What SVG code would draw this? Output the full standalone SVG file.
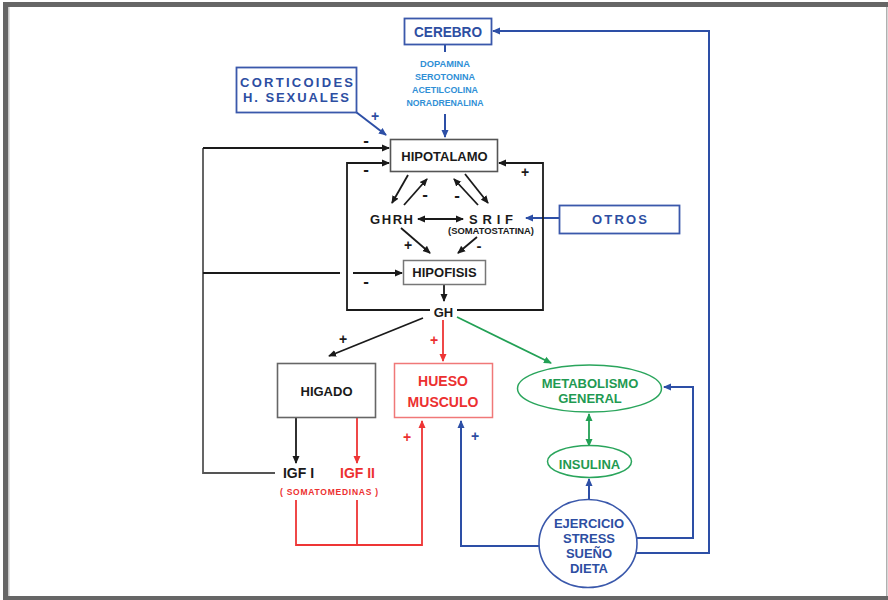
<svg xmlns="http://www.w3.org/2000/svg" width="888" height="600" viewBox="0 0 888 600">
  <defs>
    <marker id="ahK" markerUnits="userSpaceOnUse" markerWidth="8" markerHeight="8" refX="7" refY="4" orient="auto-start-reverse">
      <path d="M0,0.5 L8,4 L0,7.5 z" fill="#1a1a1a"/>
    </marker>
    <marker id="ahB" markerUnits="userSpaceOnUse" markerWidth="8" markerHeight="8" refX="7" refY="4" orient="auto-start-reverse">
      <path d="M0,0.5 L8,4 L0,7.5 z" fill="#2d4fa6"/>
    </marker>
    <marker id="ahR" markerUnits="userSpaceOnUse" markerWidth="8" markerHeight="8" refX="7" refY="4" orient="auto-start-reverse">
      <path d="M0,0.5 L8,4 L0,7.5 z" fill="#ee3535"/>
    </marker>
    <marker id="ahG" markerUnits="userSpaceOnUse" markerWidth="8" markerHeight="8" refX="7" refY="4" orient="auto-start-reverse">
      <path d="M0,0.5 L8,4 L0,7.5 z" fill="#22a055"/>
    </marker>
  </defs>
  <style>
    text { font-family: "Liberation Sans", Arial, sans-serif; font-weight: bold; text-anchor: middle; }
    .k { fill: #1a1a1a; }
    .b { fill: #2d4ea2; }
    .lb { fill: #2f8fd6; }
    .g { fill: #1f9a52; }
    .r { fill: #ec3030; }
    .t13 { font-size: 13px; }
    .t14 { font-size: 14px; }
    .plus { font-size: 14px; }
    .minus { font-size: 17px; }
    .lk { stroke: #1a1a1a; stroke-width: 1.8; fill: none; }
    .lg2 { stroke: #555555; stroke-width: 1.8; fill: none; }
    .lb2 { stroke: #2d4fa6; stroke-width: 2; fill: none; }
    .lr { stroke: #ee3535; stroke-width: 1.8; fill: none; }
    .lgr { stroke: #22a055; stroke-width: 1.8; fill: none; }
    .ak { marker-end: url(#ahK); }
    .ab { marker-end: url(#ahB); }
    .ar { marker-end: url(#ahR); }
    .ag { marker-end: url(#ahG); }
  </style>

  <!-- page frame -->
  <rect x="0" y="0" width="888" height="600" fill="#ffffff"/>
  <rect x="3" y="2" width="885" height="5" fill="#666666"/>
  <rect x="3" y="2" width="5" height="598" fill="#666666"/>
  <rect x="8" y="7" width="1.5" height="589" fill="#c8c8c8"/>
  <rect x="3" y="596" width="885" height="4" fill="#666666"/>
  <rect x="886" y="7" width="1.5" height="589" fill="#b0b0b0"/>

  <!-- connectors -->
  <g id="connectors">
    <!-- brain inputs -->
    <line class="lb2" x1="445" y1="44" x2="445" y2="52"/>
    <line class="lb2 ab" x1="445" y1="114" x2="445" y2="137"/>
    <line class="lb2 ab" x1="356" y1="112" x2="386" y2="135"/>
    <line class="lb2 ab" x1="559" y1="218" x2="526" y2="218"/>

    <!-- long feedback paths -->
    <polyline class="lg2" points="275,473 203,473 203,148"/>
    <polyline class="lk ak" points="203,148 389,148"/>
    <line class="lk" x1="203" y1="273" x2="340" y2="273"/>
    <line class="lk ak" x1="353" y1="273" x2="402" y2="273"/>
    <polyline class="lk ak" points="430,310 347,310 347,163 389,163"/>
    <polyline class="lk ak" points="457,310 543,310 543,163 499,163"/>

    <!-- hypothalamus / GHRH / SRIF -->
    <line class="lk ak" x1="408" y1="175" x2="392" y2="203"/>
    <line class="lk ak" x1="404" y1="205" x2="427" y2="179"/>
    <line class="lk ak" x1="478" y1="205" x2="454" y2="179"/>
    <line class="lk ak" x1="465" y1="174" x2="488" y2="203"/>
    <line class="lk ak" x1="418" y1="219" x2="463" y2="219" marker-start="url(#ahK)"/>
    <line class="lk ak" x1="401" y1="228" x2="430" y2="253"/>
    <line class="lk ak" x1="477" y1="237" x2="458" y2="253"/>
    <line class="lk ak" x1="444" y1="284" x2="444" y2="301"/>

    <!-- GH targets -->
    <line class="lk ak" x1="423" y1="318" x2="329" y2="356"/>
    <line class="lr ar" x1="443" y1="320" x2="443" y2="361"/>
    <line class="lgr ag" x1="457" y1="317" x2="551" y2="363"/>

    <!-- liver outputs -->
    <line class="lk ak" x1="296" y1="418" x2="296" y2="463"/>
    <line class="lr ar" x1="357" y1="418" x2="357" y2="463"/>
    <line class="lr" x1="357" y1="500" x2="357" y2="545"/>
    <polyline class="lr ar" points="296,500 296,545 422,545 422,421"/>

    <!-- metabolism / insulin -->
    <line class="lgr ag" x1="589" y1="414" x2="589" y2="446" marker-start="url(#ahG)"/>
    <line class="lb2 ab" x1="589" y1="499" x2="589" y2="479"/>

    <!-- lifestyle factors -->
    <polyline class="lb2 ab" points="539,546 461,546 461,421"/>
    <polyline class="lb2 ab" points="637,538 693,538 693,387 664,387"/>
    <polyline class="lb2 ab" points="635,553 709,553 709,31 493,31"/>
  </g>

  <!-- signs -->
  <g id="signs">
    <text class="b plus" x="375" y="121">+</text>
    <text class="k minus" x="366" y="146">-</text>
    <text class="k minus" x="366" y="175">-</text>
    <text class="k plus" x="525" y="177">+</text>
    <text class="k minus" x="425" y="200">-</text>
    <text class="k minus" x="457" y="201">-</text>
    <text class="k plus" x="408" y="250">+</text>
    <text class="k" x="479" y="251" font-size="15">-</text>
    <text class="k minus" x="366" y="287">-</text>
    <text class="k plus" x="343" y="344">+</text>
    <text class="r plus" x="434" y="345">+</text>
    <text class="r plus" x="407" y="442">+</text>
    <text class="b plus" x="475" y="441">+</text>
  </g>

  <!-- nodes -->
  <g id="cerebro">
    <rect x="404.5" y="18.5" width="87" height="26" fill="#fff" stroke="#3a58ab" stroke-width="1.8"/>
    <text class="b" x="448" y="36.5" font-size="14" textLength="68" lengthAdjust="spacingAndGlyphs">CEREBRO</text>
  </g>

  <g id="neurotransmisores">
    <text class="lb" x="445" y="67" font-size="9.5" textLength="50" lengthAdjust="spacingAndGlyphs">DOPAMINA</text>
    <text class="lb" x="445" y="80" font-size="9.5" textLength="60" lengthAdjust="spacingAndGlyphs">SEROTONINA</text>
    <text class="lb" x="445" y="93" font-size="9.5" textLength="66" lengthAdjust="spacingAndGlyphs">ACETILCOLINA</text>
    <text class="lb" x="445" y="106" font-size="9.5" textLength="77" lengthAdjust="spacingAndGlyphs">NORADRENALINA</text>
  </g>

  <g id="corticoides">
    <rect x="236.5" y="67.5" width="120" height="45" fill="#fff" stroke="#3a58ab" stroke-width="1.8"/>
    <text class="b t13" x="296.5" y="86.5" textLength="113" lengthAdjust="spacing">CORTICOIDES</text>
    <text class="b t13" x="296" y="102" textLength="106" lengthAdjust="spacing">H. SEXUALES</text>
  </g>

  <g id="hipotalamo">
    <rect x="390.5" y="139.5" width="107" height="32" fill="#fff" stroke="#555" stroke-width="1.6"/>
    <text class="k t13" x="444.5" y="160.5">HIPOTALAMO</text>
  </g>

  <g id="ghrh">
    <text class="k t13" x="391.5" y="224" textLength="43" lengthAdjust="spacing">GHRH</text>
  </g>

  <g id="srif">
    <text class="k t13" x="491" y="224" textLength="44" lengthAdjust="spacing">SRIF</text>
    <text class="k" x="491" y="234" font-size="8.5" textLength="86" lengthAdjust="spacingAndGlyphs">(SOMATOSTATINA)</text>
  </g>

  <g id="otros">
    <rect x="559.5" y="205.5" width="120" height="28" fill="#fff" stroke="#3a58ab" stroke-width="1.8"/>
    <text class="b t13" x="619.5" y="224" textLength="55" lengthAdjust="spacing">OTROS</text>
  </g>

  <g id="hipofisis">
    <rect x="403.5" y="260.5" width="82" height="24" fill="#fff" stroke="#777" stroke-width="1.5"/>
    <text class="k t13" x="444.5" y="277">HIPOFISIS</text>
  </g>

  <g id="gh">
    <text class="k t13" x="443.5" y="317">GH</text>
  </g>

  <g id="higado">
    <rect x="277.5" y="363.5" width="98" height="54" fill="#fff" stroke="#666" stroke-width="1.6"/>
    <text class="k t13" x="326.5" y="396">HIGADO</text>
  </g>

  <g id="hueso-musculo">
    <rect x="394.5" y="363.5" width="98" height="54" fill="#fff" stroke="#f07878" stroke-width="1.5"/>
    <text class="r t14" x="443" y="386">HUESO</text>
    <text class="r t14" x="443" y="407">MUSCULO</text>
  </g>

  <g id="igf">
    <text class="k t14" x="298.5" y="478">IGF I</text>
    <text class="r t14" x="357.5" y="478">IGF II</text>
    <text class="r" x="329" y="494.5" font-size="8.5" textLength="98" lengthAdjust="spacing">( SOMATOMEDINAS )</text>
  </g>

  <g id="metabolismo">
    <ellipse cx="589.5" cy="388.5" rx="72" ry="23.5" fill="#fff" stroke="#2aa55c" stroke-width="1.5"/>
    <text class="g t13" x="590" y="388">METABOLISMO</text>
    <text class="g t13" x="590" y="403">GENERAL</text>
  </g>

  <g id="insulina">
    <ellipse cx="589.5" cy="461.5" rx="42" ry="16" fill="#fff" stroke="#2aa55c" stroke-width="1.5"/>
    <text class="g t13" x="589.5" y="468.5">INSULINA</text>
  </g>

  <g id="factores">
    <ellipse cx="588" cy="543.5" rx="49" ry="44" fill="#fff" stroke="#3a58ab" stroke-width="1.6"/>
    <text class="b t13" x="589" y="528">EJERCICIO</text>
    <text class="b t13" x="589" y="543">STRESS</text>
    <text class="b t13" x="589" y="558">SUEÑO</text>
    <text class="b t13" x="589" y="573">DIETA</text>
  </g>
</svg>
